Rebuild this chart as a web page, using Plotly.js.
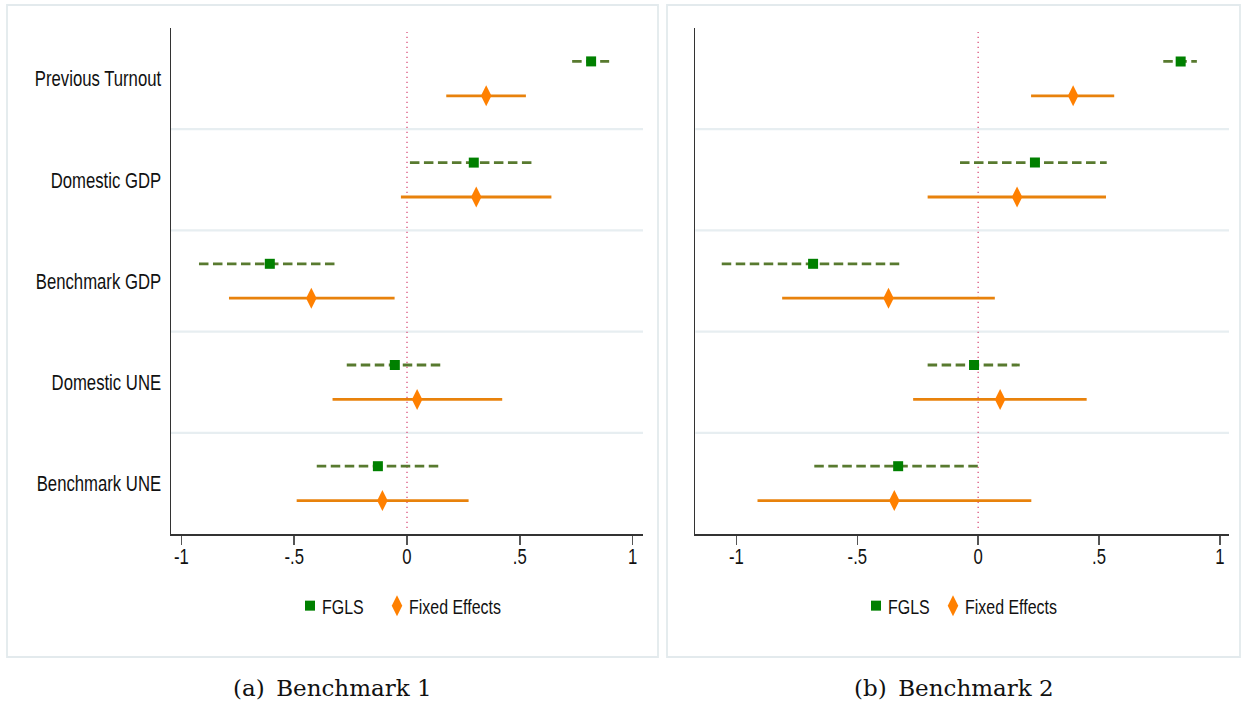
<!DOCTYPE html>
<html>
<head>
<meta charset="utf-8">
<script src="https://cdn.plot.ly/plotly-3.0.1.min.js"></script>
<style>
  html, body { margin: 0; padding: 0; background: #ffffff; }
  #chart { width: 1244px; height: 707px; }
</style>
</head>
<body>
<div id="chart"></div>
<script>
// ---------------- data ----------------
const categories = ['Previous Turnout', 'Domestic GDP', 'Benchmark GDP', 'Domestic UNE', 'Benchmark UNE'];
const xTickVals = [-1, -0.5, 0, 0.5, 1];
const xTickText = ['-1', '-.5', '0', '.5', '1'];
const seriesNames = ['FGLS', 'Fixed Effects'];
const panelCaptions = ['(a)\u2002Benchmark 1', '(b)\u2002Benchmark 2'];

// Panel (a) Benchmark 1
const fglsA    = [0.816, 0.296, -0.608, -0.054, -0.129];
const fglsA_lo = [0.732, 0.013, -0.922, -0.267, -0.400];
const fglsA_hi = [0.896, 0.561, -0.310, 0.154, 0.145];
const feA      = [0.351, 0.307, -0.424, 0.045, -0.109];
const feA_lo   = [0.174, -0.027, -0.789, -0.330, -0.489];
const feA_hi   = [0.527, 0.640, -0.055, 0.422, 0.273];

// Panel (b) Benchmark 2
const fglsB    = [0.838, 0.235, -0.683, -0.017, -0.331];
const fglsB_lo = [0.766, -0.075, -1.061, -0.209, -0.678];
const fglsB_hi = [0.905, 0.532, -0.308, 0.172, 0.013];
const feB      = [0.393, 0.161, -0.371, 0.091, -0.347];
const feB_lo   = [0.219, -0.209, -0.811, -0.269, -0.913];
const feB_hi   = [0.563, 0.529, 0.069, 0.449, 0.220];

// ---------------- styling ----------------
const W = 1244, H = 707;
const SANS = '"Liberation Sans", Arial, sans-serif';
const SERIF = '"DejaVu Serif", "Liberation Serif", serif';
const TXT = '#111111';
const C_FGLS_LINE = '#587a2f';
const C_FGLS_MARK = '#008000';
const C_FE_LINE = '#e8820c';
const C_FE_MARK = '#ff8000';
const OFF = 0.17;      // vertical offset of the two estimates inside each band
const SQUEEZE = 0.76;  // horizontal condensing of the sans-serif labels

const px = v => v / W;
const py = v => 1 - v / H;

function ciTrace(lo, hi, pos, color, dash, xa, ya) {
  const x = [], y = [];
  for (let i = 0; i < lo.length; i++) {
    x.push(lo[i], hi[i], null);
    y.push(i + pos, i + pos, null);
  }
  return { type: 'scatter', mode: 'lines', x, y, xaxis: xa, yaxis: ya,
    line: { color, width: 2.8, dash }, showlegend: false, hoverinfo: 'skip', connectgaps: false };
}
function ptTrace(vals, pos, name, symbol, size, color, xa, ya, legend) {
  return { type: 'scatter', mode: 'markers', name,
    x: vals, y: vals.map((_, i) => i + pos), xaxis: xa, yaxis: ya, legend,
    marker: { symbol, size, color, line: { width: 0 } } };
}

const traces = [
  ciTrace(fglsA_lo, fglsA_hi, -OFF, C_FGLS_LINE, '9.5px,4.5px', 'x', 'y'),
  ciTrace(feA_lo, feA_hi, OFF, C_FE_LINE, 'solid', 'x', 'y'),
  ptTrace(fglsA, -OFF, seriesNames[0], 'square', 10, C_FGLS_MARK, 'x', 'y', 'legend'),
  ptTrace(feA, OFF, seriesNames[1], 'diamond-tall', 15, C_FE_MARK, 'x', 'y', 'legend'),
  ciTrace(fglsB_lo, fglsB_hi, -OFF, C_FGLS_LINE, '9.5px,4.5px', 'x2', 'y2'),
  ciTrace(feB_lo, feB_hi, OFF, C_FE_LINE, 'solid', 'x2', 'y2'),
  ptTrace(fglsB, -OFF, seriesNames[0], 'square', 10, C_FGLS_MARK, 'x2', 'y2', 'legend2'),
  ptTrace(feB, OFF, seriesNames[1], 'diamond-tall', 15, C_FE_MARK, 'x2', 'y2', 'legend2'),
];

const tickFont = { family: SANS, size: 22, color: TXT };
function xAxis(domain, range) {
  return { domain, range, tickvals: xTickVals, ticktext: xTickText,
    showgrid: false, zeroline: false, showline: true, linecolor: '#333333', linewidth: 1.5,
    ticks: 'outside', ticklen: 9, tickwidth: 1.5, tickcolor: '#555555',
    tickfont: tickFont, fixedrange: true };
}
function yAxis(anchor, showLabels) {
  return { anchor, domain: [py(534), py(28)], range: [categories.length - 0.5, -0.5],
    tickvals: categories.map((_, i) => i), ticktext: categories,
    showticklabels: showLabels, ticks: '', ticklabelstandoff: 4,
    showgrid: false, zeroline: false, showline: true, linecolor: '#333333', linewidth: 1.5,
    tickfont: tickFont, fixedrange: true };
}

const shapes = [];
// panel frames
shapes.push({ type: 'rect', xref: 'paper', yref: 'paper', x0: px(7), x1: px(658), y0: py(657), y1: py(5),
  line: { color: '#e3eaed', width: 1.8 }, layer: 'below' });
shapes.push({ type: 'rect', xref: 'paper', yref: 'paper', x0: px(667), x1: px(1240), y0: py(657), y1: py(5),
  line: { color: '#e3eaed', width: 1.8 }, layer: 'below' });
// band separators and zero reference lines
[['x', 'y'], ['x2', 'y2']].forEach(([xa, ya]) => {
  for (let i = 0; i < categories.length - 1; i++) {
    shapes.push({ type: 'line', xref: xa + ' domain', yref: ya, x0: 0, x1: 1, y0: i + 0.5, y1: i + 0.5,
      line: { color: '#e7eef1', width: 2.2 }, layer: 'below' });
  }
  shapes.push({ type: 'line', xref: xa, yref: ya + ' domain', x0: 0, x1: 0, y0: 0.012, y1: 0.992,
    line: { color: '#d9507a', width: 1.3, dash: '1.3px,3.7px' }, layer: 'below' });
});

const legendCommon = { orientation: 'h', yanchor: 'middle', xanchor: 'left', y: py(606),
  font: { family: SANS, size: 21, color: TXT }, bgcolor: 'rgba(0,0,0,0)', itemwidth: 30,
  entrywidthmode: 'pixels', traceorder: 'normal', itemclick: false, itemdoubleclick: false };

const layout = {
  width: W, height: H, margin: { l: 0, r: 0, t: 0, b: 0 },
  paper_bgcolor: '#ffffff', plot_bgcolor: '#ffffff',
  showlegend: true,
  xaxis: Object.assign(xAxis([px(171), px(643)], [-1.046, 1.046]), { anchor: 'y' }),
  yaxis: yAxis('x', true),
  xaxis2: Object.assign(xAxis([px(695.4), px(1229)], [-1.170, 1.038]), { anchor: 'y2' }),
  yaxis2: yAxis('x2', false),
  legend: Object.assign({}, legendCommon, { x: px(290), entrywidth: 42 }),
  legend2: Object.assign({}, legendCommon, { x: px(856), entrywidth: 32 }),
  shapes,
  annotations: [
    { xref: 'paper', yref: 'paper', x: px(332.5), y: py(688), xanchor: 'center', yanchor: 'middle',
      text: panelCaptions[0], showarrow: false, font: { family: SERIF, size: 23, color: TXT } },
    { xref: 'paper', yref: 'paper', x: px(953.5), y: py(688), xanchor: 'center', yanchor: 'middle',
      text: panelCaptions[1], showarrow: false, font: { family: SERIF, size: 23, color: TXT } },
  ],
};

// condense a text element horizontally around its anchor x (once)
function squeeze(t, s, dx, dy) {
  if (t.getAttribute('data-sq')) return;
  t.setAttribute('data-sq', '1');
  const x = parseFloat(t.getAttribute('x')) || 0;
  const tr = t.getAttribute('transform') || '';
  t.setAttribute('transform', tr + ' translate(' + (x + dx) + ',' + dy + ') scale(' + s + ',1) translate(' + (-x) + ',0)');
}
function condenseLabels(gd) {
  gd.querySelectorAll('.ytick text, .y2tick text').forEach(t => squeeze(t, SQUEEZE, 0, 0));
  gd.querySelectorAll('.xtick text, .x2tick text').forEach(t => squeeze(t, SQUEEZE, 0, -7));
  const legs = gd.querySelectorAll('.infolayer g[class^="legend"]');
  legs.forEach(g => {
    g.querySelectorAll('text').forEach(t => squeeze(t, SQUEEZE, -8, 0));
    g.removeAttribute('clip-path');
    g.querySelectorAll('[clip-path]').forEach(el => el.removeAttribute('clip-path'));
  });
}

Plotly.newPlot('chart', traces, layout, { displayModeBar: false, staticPlot: true }).then(gd => {
  condenseLabels(gd);
  gd.on('plotly_afterplot', () => condenseLabels(gd));
  setTimeout(() => condenseLabels(gd), 60);
  setTimeout(() => condenseLabels(gd), 300);
});
</script>
</body>
</html>
